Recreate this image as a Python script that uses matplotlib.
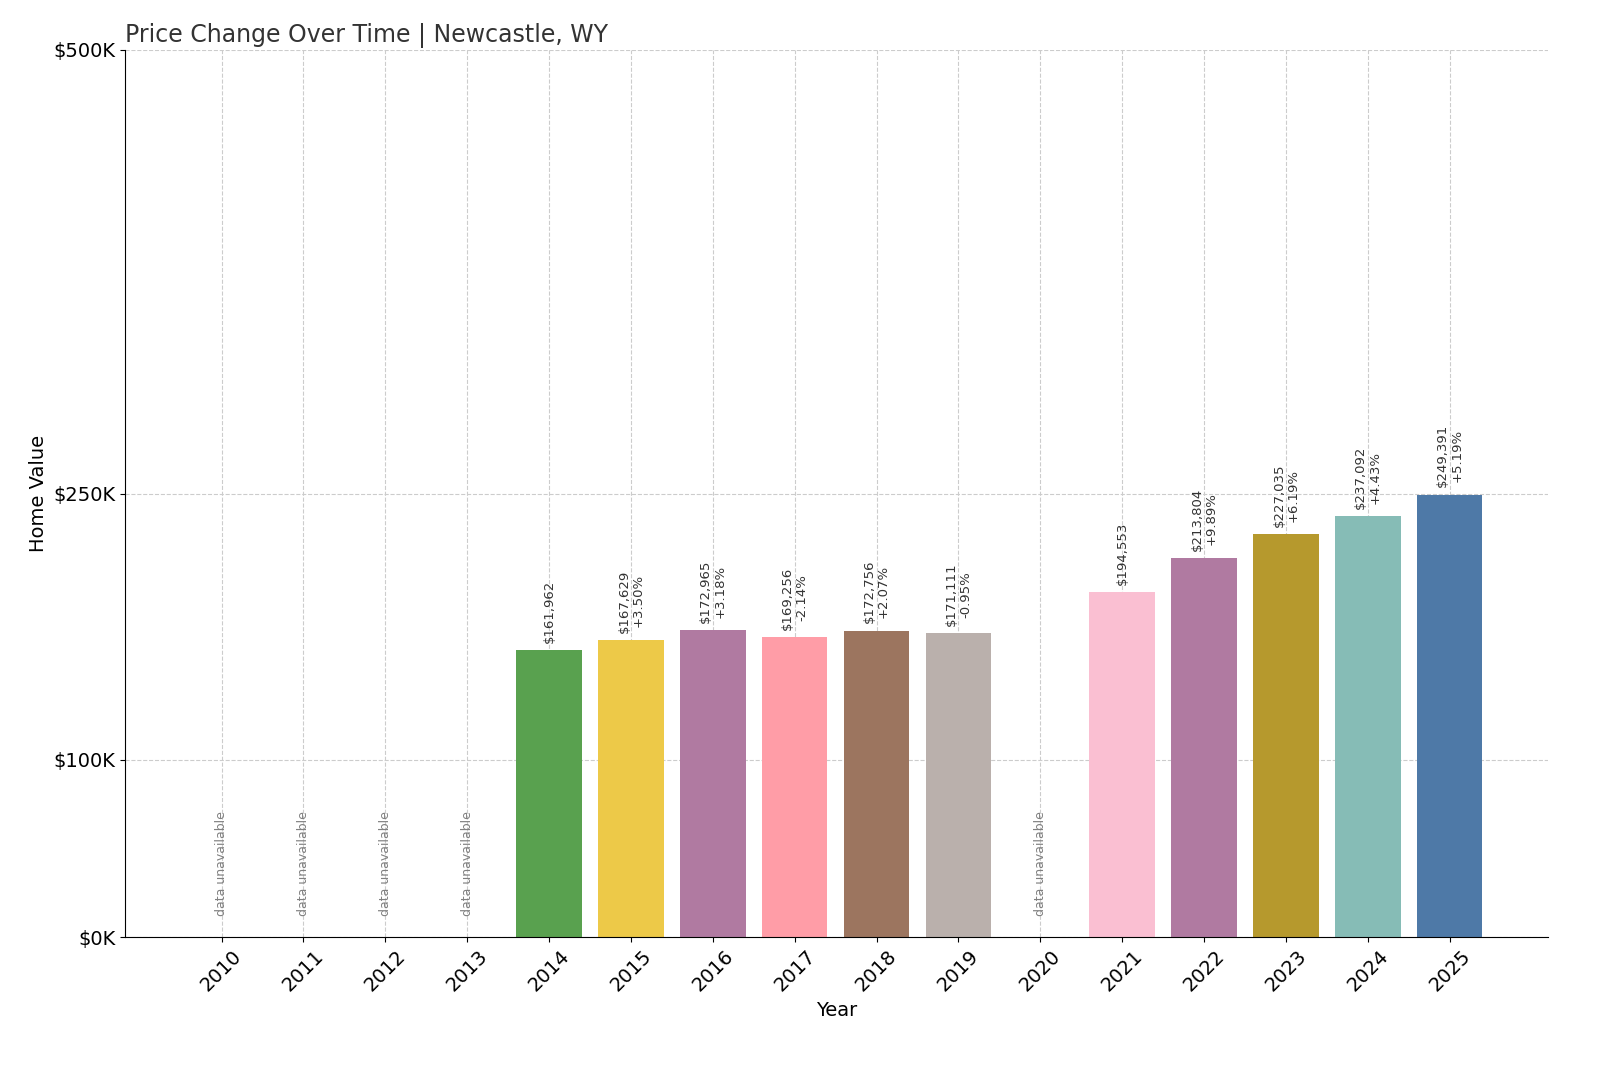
import matplotlib
matplotlib.use("Agg")
import matplotlib.pyplot as plt

years = list(range(2010, 2026))
values = [None, None, None, None, 161962, 167629, 172965, 169256, 172756, 171111, None, 194553, 213804, 227035, 237092, 249391]
pcts = [None, None, None, None, None, "+3.50%", "+3.18%", "-2.14%", "+2.07%", "-0.95%", None, None, "+9.89%", "+6.19%", "+4.43%", "+5.19%"]
colors = {2014: "#59A14F", 2015: "#EDC948", 2016: "#B07AA1", 2017: "#FF9DA7", 2018: "#9C755F",
          2019: "#BAB0AC", 2021: "#FABFD2", 2022: "#B07AA1", 2023: "#B6992D", 2024: "#86BCB6", 2025: "#4E79A7"}
yticks = [0, 100000, 250000, 500000]
yticklabels = ["$0K", "$100K", "$250K", "$500K"]

fig = plt.figure(figsize=(16, 10.67), dpi=100)
ax = fig.add_axes([125/1600, 1-937/1067, (1548-125)/1600, (937-50)/1067])
for y, v, p in zip(years, values, pcts):
    if v is None:
        ax.text(y, 12000, "data unavailable", rotation=90, ha="center", va="bottom", fontsize=9, color="gray")
        continue
    ax.bar(y, v, width=0.8, color=colors[y], zorder=2)
    lab = f"${v:,}" + (f"\n{p}" if p else "")
    ax.text(y, v + 4000, lab, rotation=90, ha="center", va="bottom", fontsize=9.5, color="#333333", linespacing=1.1)

ax.set_xlim(2008.82, 2026.2)
ax.set_ylim(0, 500000)
ax.set_xticks(years)
ax.set_xticklabels([str(y) for y in years], rotation=45, fontsize=14)
ax.set_yticks(yticks)
ax.set_yticklabels(yticklabels, fontsize=14)
ax.grid(True, linestyle="--", color="#cccccc", zorder=0)
ax.set_axisbelow(True)
ax.spines["top"].set_visible(False)
ax.spines["right"].set_visible(False)
ax.set_xlabel("Year", fontsize=14)
ax.set_ylabel("Home Value", fontsize=14)
ax.set_title("Price Change Over Time | Newcastle, WY", loc="left", fontsize=17, color="#333333")
fig.savefig("out.png", dpi=100)
